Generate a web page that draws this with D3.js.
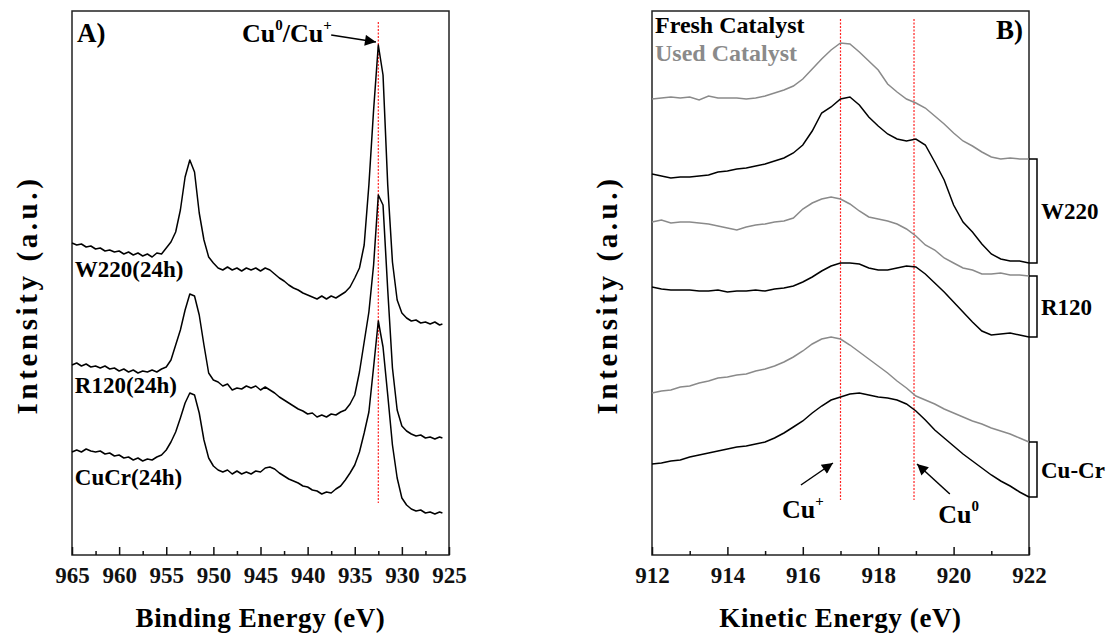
<!DOCTYPE html>
<html>
<head>
<meta charset="utf-8">
<script src="https://cdn.jsdelivr.net/npm/d3@7"></script>
<style>
  body { margin: 0; background: #fff; }
  svg text { font-family: "Liberation Serif", "Times New Roman", Tinos, Times, "DejaVu Serif", serif !important; font-weight: bold; }
</style>
</head>
<body>
<div id="plot"></div>
<script>
// ---- Panel A: Cu 2p XPS, binding energy (eV) ----
const bindingEnergy = [
  965, 964.5, 964, 963.5, 963, 962.5, 962, 961.5, 961, 960.5,
  960, 959.5, 959, 958.5, 958, 957.5, 957, 956.5, 956, 955.5,
  955, 954.5, 954, 953.5, 953, 952.5, 952, 951.5, 951, 950.5,
  950, 949.5, 949, 948.5, 948, 947.5, 947, 946.5, 946, 945.5,
  945, 944.5, 944, 943.5, 943, 942.5, 942, 941.5, 941, 940.5,
  940, 939.5, 939, 938.5, 938, 937.5, 937, 936.5, 936, 935.5,
  935, 934.5, 934, 933.5, 933, 932.5, 932, 931.5, 931, 930.5,
  930, 929.5, 929, 928.5, 928, 927.5, 927, 926.5, 926, 925.7];

// stacked intensities (a.u.)
const w220XPS = [
  312, 310, 311, 308, 309, 306, 307, 304, 305, 303,
  304, 301, 303, 300, 302, 299, 301, 298, 302, 301,
  307, 313, 323, 345, 378, 395, 383, 342, 315, 298,
  292, 287, 285, 288, 285, 287, 284, 287, 285, 287,
  284, 287, 285, 281, 277, 274, 270, 267, 265, 262,
  260, 258, 256, 259, 256, 259, 257, 260, 263, 268,
  277, 287, 310, 370, 445, 510, 480, 370, 293, 255,
  242, 237, 234, 235, 232, 233, 231, 233, 230, 231];

const r120XPS = [
  190, 192, 189, 191, 188, 189, 187, 189, 186, 187,
  184, 186, 183, 185, 182, 184, 183, 185, 183, 186,
  188, 195, 210, 225, 245, 261, 259, 240, 210, 182,
  175, 173, 169, 171, 165, 167, 166, 169, 167, 169,
  165, 168, 165, 162, 158, 155, 152, 149, 146, 144,
  141, 142, 138, 140, 138, 141, 140, 143, 145, 151,
  160, 183, 213, 243, 290, 360, 350, 265, 187, 145,
  129, 124, 121, 119, 120, 117, 118, 116, 118, 117];

const cucrXPS = [
  103, 105, 103, 106, 104, 103, 104, 101, 102, 99,
  100, 97, 98, 95, 97, 94, 96, 95, 98, 100,
  105, 113, 123, 137, 152, 162, 160, 142, 115, 97,
  89, 85, 83, 85, 81, 84, 81, 83, 81, 84,
  83, 87, 88, 86, 82, 79, 76, 74, 72, 69,
  68, 65, 64, 61, 63, 62, 66, 69, 75, 82,
  90, 103, 122, 143, 188, 234, 208, 160, 110, 77,
  57, 50, 46, 44, 45, 42, 43, 41, 43, 42];

const xpsNames = ["W220(24h)", "R120(24h)", "CuCr(24h)"];
const bindingTicks = [965, 960, 955, 950, 945, 940, 935, 930, 925];
const bindingMinor = [962.5, 957.5, 952.5, 947.5, 942.5, 937.5, 932.5, 927.5];
const cuXpsLine = 932.5;

// ---- Panel B: Cu LMM Auger, kinetic energy (eV) ----
const kineticEnergy = [
  912, 912.25, 912.5, 912.75, 913, 913.25, 913.5, 913.75, 914, 914.25,
  914.5, 914.75, 915, 915.25, 915.5, 915.75, 916, 916.25, 916.5, 916.75,
  917, 917.25, 917.5, 917.75, 918, 918.25, 918.5, 918.75, 919, 919.25,
  919.5, 919.75, 920, 920.25, 920.5, 920.75, 921, 921.25, 921.5, 921.75, 922];

const w220Used = [
  456, 457, 458, 457, 458, 455, 459, 457, 457, 457,
  456, 457, 459, 462, 465, 469, 476, 486, 496, 505,
  512, 511, 503, 494, 485, 471, 463, 456, 452, 447,
  439, 431, 422, 414, 409, 403, 398, 396, 397, 396, 396];
const w220Fresh = [
  381, 379, 377, 378, 378, 379, 380, 383, 384, 386,
  387, 389, 391, 394, 397, 402, 410, 424, 442, 448,
  456, 458, 450, 438, 429, 421, 416, 414, 416, 410,
  393, 375, 350, 333, 323, 311, 301, 296, 294, 294, 292];
const r120Used = [
  333, 335, 332, 333, 333, 332, 331, 329, 327, 325,
  328, 330, 331, 333, 334, 337, 346, 352, 356, 358,
  356, 351, 344, 338, 336, 334, 331, 326, 319, 310,
  305, 297, 292, 287, 285, 281, 281, 282, 280, 280, 279];
const r120Fresh = [
  268, 266, 265, 265, 265, 264, 264, 265, 263, 264,
  264, 265, 264, 266, 267, 269, 273, 278, 284, 289,
  292, 292, 291, 287, 285, 285, 287, 289, 288, 281,
  272, 263, 253, 243, 233, 224, 220, 221, 222, 220, 218];
const cucrUsed = [
  162, 164, 165, 168, 169, 172, 174, 177, 178, 180,
  181, 184, 186, 189, 193, 198, 204, 211, 216, 218,
  216, 210, 203, 196, 189, 182, 174, 167, 159, 155,
  151, 146, 142, 138, 134, 131, 127, 124, 121, 117, 113];
const cucrFresh = [
  91, 92, 94, 95, 98, 100, 102, 104, 106, 108,
  109, 111, 113, 117, 122, 128, 134, 142, 149, 155,
  158, 161, 162, 160, 158, 157, 155, 151, 144, 135,
  125, 117, 109, 101, 94, 87, 80, 74, 69, 63, 58];

const aesNames = ["W220", "R120", "Cu-Cr"];
const kineticTicks = [912, 914, 916, 918, 920, 922];
const kineticMinor = [913, 915, 917, 919, 921];
const cuAesLines = [917.0, 918.95];

// ---- layout ----
const W = 1107, H = 638;
const panelW = 377, panelH = 544;
const marginTop = 11;
const leftA = 72, leftB = 652;
const serif = "'Liberation Serif', 'Times New Roman', Tinos, Times, 'DejaVu Serif', serif";

const svg = d3.select("#plot").append("svg")
  .attr("width", W).attr("height", H)
  .attr("font-family", serif).attr("font-weight", "bold");

svg.append("defs").append("marker")
  .attr("id", "arrow")
  .attr("viewBox", "0 0 10 10")
  .attr("refX", 10).attr("refY", 5)
  .attr("markerUnits", "userSpaceOnUse")
  .attr("markerWidth", 15).attr("markerHeight", 11)
  .attr("orient", "auto")
  .append("path").attr("d", "M0,0 L10,5 L0,10 z").attr("fill", "#000");

const y = d3.scaleLinear().domain([0, 544]).range([panelH, 0]);

function drawFrame(g, x, ticks, minor, title) {
  g.append("rect")
    .attr("width", panelW).attr("height", panelH)
    .attr("fill", "none").attr("stroke", "#222").attr("stroke-width", 1.5);

  const ax = g.append("g").attr("transform", `translate(0,${panelH})`)
    .call(d3.axisBottom(x).tickValues(ticks).tickSizeInner(-8).tickSizeOuter(0).tickPadding(12));
  ax.attr("font-family", serif).attr("font-size", 23);
  ax.select(".domain").remove();
  ax.selectAll("line").attr("stroke", "#111").attr("stroke-width", 1.5);
  ax.selectAll("text").attr("fill", "#111");

  const mx = g.append("g").attr("transform", `translate(0,${panelH})`)
    .call(d3.axisBottom(x).tickValues(minor).tickSizeInner(-4).tickSizeOuter(0).tickFormat(""));
  mx.select(".domain").remove();
  mx.selectAll("line").attr("stroke", "#111").attr("stroke-width", 1.5);

  g.append("text")
    .attr("x", panelW / 2).attr("y", panelH + 72)
    .attr("text-anchor", "middle").attr("font-size", 27)
    .attr("letter-spacing", 0.6)
    .text(title);

  g.append("text")
    .attr("transform", `translate(-35,${panelH / 2 + 12}) rotate(-90)`)
    .attr("text-anchor", "middle").attr("font-size", 29)
    .attr("letter-spacing", 3.6)
    .text("Intensity (a.u.)");
}

function addSup(text, parts) {
  parts.forEach(p => {
    const t = text.append("tspan").text(p.s);
    if (p.sup) t.attr("font-size", 15).attr("dy", -12);
    else if (p.down) t.attr("dy", 12);
  });
}

// ---------------- Panel A ----------------
const gA = svg.append("g").attr("transform", `translate(${leftA},${marginTop})`);
const xA = d3.scaleLinear().domain([965, 925]).range([0, panelW]);
drawFrame(gA, xA, bindingTicks, bindingMinor, "Binding Energy (eV)");

gA.append("line")
  .attr("x1", xA(cuXpsLine)).attr("x2", xA(cuXpsLine))
  .attr("y1", y(533)).attr("y2", y(52))
  .attr("stroke", "#ff2020").attr("stroke-width", 1.2).attr("stroke-dasharray", "2,1.5");

const lineA = d3.line().x((d, i) => xA(bindingEnergy[i])).y(d => y(d));
[w220XPS, r120XPS, cucrXPS].forEach(s => {
  gA.append("path").datum(s).attr("d", lineA)
    .attr("fill", "none").attr("stroke", "#000").attr("stroke-width", 1.5)
    .attr("stroke-linejoin", "round");
});

const xpsLabelY = [278, 162, 70];
xpsNames.forEach((n, i) => {
  gA.append("text").attr("x", xA(964.7)).attr("y", y(xpsLabelY[i]))
    .attr("font-size", 23).text(n);
});

gA.append("text").attr("x", 5).attr("y", 31).attr("font-size", 27).text("A)");

const cuA = gA.append("text").attr("x", xA(946.96)).attr("y", y(513)).attr("font-size", 26);
addSup(cuA, [{s: "Cu"}, {s: "0", sup: true}, {s: "/Cu", down: true}, {s: "+", sup: true}]);

gA.append("line")
  .attr("x1", xA(937.5)).attr("y1", y(520))
  .attr("x2", xA(932.75)).attr("y2", y(513))
  .attr("stroke", "#000").attr("stroke-width", 1.5)
  .attr("marker-end", "url(#arrow)");

// ---------------- Panel B ----------------
const gB = svg.append("g").attr("transform", `translate(${leftB},${marginTop})`);
const xB = d3.scaleLinear().domain([912, 922]).range([0, panelW]);
drawFrame(gB, xB, kineticTicks, kineticMinor, "Kinetic Energy (eV)");

cuAesLines.forEach(e => {
  gB.append("line")
    .attr("x1", xB(e)).attr("x2", xB(e))
    .attr("y1", y(536)).attr("y2", y(55))
    .attr("stroke", "#ff2020").attr("stroke-width", 1.2).attr("stroke-dasharray", "2,1.5");
});

const lineB = d3.line().x((d, i) => xB(kineticEnergy[i])).y(d => y(d));
const aesPairs = [[w220Used, w220Fresh], [r120Used, r120Fresh], [cucrUsed, cucrFresh]];
aesPairs.forEach(([used, fresh]) => {
  gB.append("path").datum(used).attr("d", lineB)
    .attr("fill", "none").attr("stroke", "#8a8a8a").attr("stroke-width", 1.5);
  gB.append("path").datum(fresh).attr("d", lineB)
    .attr("fill", "none").attr("stroke", "#000").attr("stroke-width", 1.5);
});

// brackets from curve ends
aesPairs.forEach(([used, fresh], i) => {
  const y1 = y(used[used.length - 1]), y2 = y(fresh[fresh.length - 1]);
  gB.append("path")
    .attr("d", `M${panelW},${y1} H${panelW + 8} V${y2} H${panelW}`)
    .attr("fill", "none").attr("stroke", "#000").attr("stroke-width", 1.5);
  gB.append("text").attr("x", panelW + 12).attr("y", (y1 + y2) / 2 + 8)
    .attr("font-size", 23).text(aesNames[i]);
});

gB.append("text").attr("x", 3).attr("y", 22).attr("font-size", 24).attr("fill", "#000").text("Fresh Catalyst");
gB.append("text").attr("x", 3).attr("y", 50).attr("font-size", 24).attr("fill", "#8a8a8a").text("Used Catalyst");
gB.append("text").attr("x", 371).attr("y", 28).attr("text-anchor", "end").attr("font-size", 27).text("B)");

const cuPlus = gB.append("text").attr("x", xB(915.45)).attr("y", y(37)).attr("font-size", 26);
addSup(cuPlus, [{s: "Cu"}, {s: "+", sup: true}]);
const cuZero = gB.append("text").attr("x", xB(919.59)).attr("y", y(32)).attr("font-size", 26);
addSup(cuZero, [{s: "Cu"}, {s: "0", sup: true}]);

gB.append("line")
  .attr("x1", xB(915.95)).attr("y1", y(70)).attr("x2", xB(916.8)).attr("y2", y(92))
  .attr("stroke", "#000").attr("stroke-width", 1.5).attr("marker-end", "url(#arrow)");
gB.append("line")
  .attr("x1", xB(919.9)).attr("y1", y(61)).attr("x2", xB(919.03)).attr("y2", y(91))
  .attr("stroke", "#000").attr("stroke-width", 1.5).attr("marker-end", "url(#arrow)");
</script>
</body>
</html>
